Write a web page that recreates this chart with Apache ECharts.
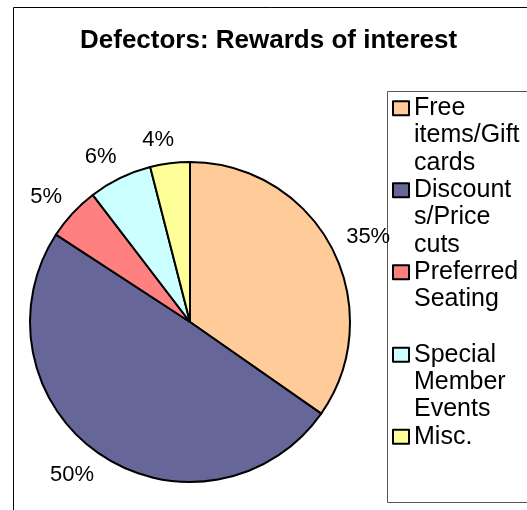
<!DOCTYPE html>
<html>
<head>
<meta charset="utf-8">
<script src="https://cdn.jsdelivr.net/npm/echarts@6/dist/echarts.min.js"></script>
<style>
  html, body { margin: 0; padding: 0; background: #fff; }
  #main { width: 527px; height: 510px; }
</style>
</head>
<body>
<div id="main"></div>
<script>
// categories, in drawing order (clockwise from 12 o'clock)
var categories = ['Free items/Gift cards', 'Discounts/Price cuts', 'Preferred Seating', 'Special Member Events', 'Misc.'];
// legend text as wrapped in the original
var legendText = ['Free\nitems/Gift\ncards', 'Discount\ns/Price\ncuts', 'Preferred\nSeating', 'Special\nMember\nEvents', 'Misc.'];
// share of respondents (%)
var shares = [34.7, 49.5, 5.4, 6.4, 4.0];
var colors = ['#FFCC99', '#666699', '#FF8080', '#CCFFFF', '#FFFF99'];

var FONT = "'Liberation Sans', Arial, sans-serif";
var LH = 27.4;                         // legend line height
var legendIconCenters = [108, 190, 272, 354.5, 436.5];

var chart = echarts.init(document.getElementById('main'), null, { renderer: 'canvas' });

// legend text is centred on its icon, so pad the top with blank lines
// to keep the icon level with the first line
function padLines(txt) {
  var n = txt.split('\n').length;
  return new Array(n).join('\n') + txt;
}

var legends = categories.map(function (name, i) {
  var nLines = legendText[i].split('\n').length;
  return {
    data: [name],
    orient: 'vertical',
    left: 392,
    top: legendIconCenters[i] - 7 - (nLines - 1) * LH - 6.5,
    padding: 0,
    itemWidth: 16,
    itemHeight: 14,
    icon: 'rect',
    selectedMode: false,
    itemStyle: { borderColor: '#000', borderWidth: 2 },
    formatter: function () { return padLines(legendText[i]); },
    textStyle: {
      fontFamily: FONT,
      fontSize: 25,
      color: '#000',
      lineHeight: LH
    }
  };
});

var option = {
  animation: false,
  backgroundColor: '#fff',
  title: {
    text: 'Defectors: Rewards of interest',
    left: 80,
    top: 28,
    padding: 0,
    textStyle: { fontFamily: FONT, fontSize: 26, fontWeight: 'bold', color: '#000' }
  },
  graphic: [
    { // chart frame
      type: 'rect', left: 11, top: 5, z: -1, silent: true,
      shape: { width: 620, height: 620 },
      style: { fill: 'none', stroke: '#000', lineWidth: 1 }
    },
    { // legend box
      type: 'rect', left: 385, top: 89, z: -1, silent: true,
      shape: { width: 200, height: 411 },
      style: { fill: 'none', stroke: '#555', lineWidth: 1 }
    }
  ],
  legend: legends,
  series: [{
    type: 'pie',
    center: [190, 322],
    radius: 160,
    startAngle: 90,
    clockwise: true,
    avoidLabelOverlap: false,
    emphasis: { disabled: true },
    itemStyle: { borderColor: '#000', borderWidth: 2 },
    label: {
      show: true,
      position: 'outside',
      distanceToLabelLine: -7,
      fontFamily: FONT,
      fontSize: 22,
      color: '#000',
      formatter: function (p) { return Math.round(p.percent) + '%'; }
    },
    labelLine: { show: false, length: 24, length2: 0 },
    data: categories.map(function (name, i) {
      return { name: name, value: shares[i], itemStyle: { color: colors[i] } };
    })
  }]
};

chart.setOption(option);
</script>
</body>
</html>
